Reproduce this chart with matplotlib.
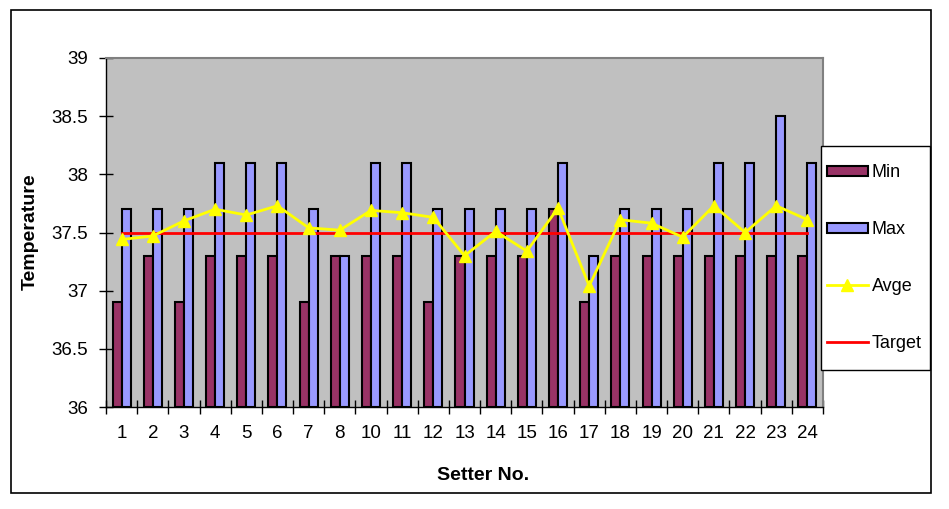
import matplotlib
matplotlib.use("Agg")
import matplotlib.pyplot as plt
from matplotlib.patches import Rectangle
import numpy as np

plt.rcParams['font.family'] = ['Liberation Sans', 'DejaVu Sans']

setters = ["1", "2", "3", "4", "5", "6", "7", "8", "10", "11", "12", "13",
           "14", "15", "16", "17", "18", "19", "20", "21", "22", "23", "24"]
min_vals = [36.9, 37.3, 36.9, 37.3, 37.3, 37.3, 36.9, 37.3, 37.3, 37.3, 36.9, 37.3,
            37.3, 37.3, 37.7, 36.9, 37.3, 37.3, 37.3, 37.3, 37.3, 37.3, 37.3]
max_vals = [37.7, 37.7, 37.7, 38.1, 38.1, 38.1, 37.7, 37.3, 38.1, 38.1, 37.7, 37.7,
            37.7, 37.7, 38.1, 37.3, 37.7, 37.7, 37.7, 38.1, 38.1, 38.5, 38.1]
avge_vals = [37.44, 37.47, 37.60, 37.70, 37.65, 37.73, 37.54, 37.52, 37.69, 37.67, 37.63, 37.30,
             37.51, 37.34, 37.71, 37.04, 37.61, 37.58, 37.46, 37.73, 37.50, 37.73, 37.61]
target_vals = [37.5] * len(setters)
yticks = [36, 36.5, 37, 37.5, 38, 38.5, 39]
ytick_labels = ["36", "36.5", "37", "37.5", "38", "38.5", "39"]

W, H = 949, 509
fig = plt.figure(figsize=(W / 100, H / 100), dpi=100)

# outer chart border
fig.patches.append(Rectangle((11 / W, 1 - 493 / H), (931 - 11) / W, (493 - 10) / H,
                             transform=fig.transFigure, fill=False, edgecolor='black',
                             linewidth=1.2, zorder=0))

ax = fig.add_axes([106 / W, 1 - 407 / H, (823 - 106) / W, (407 - 58) / H])
ax.set_facecolor('#C0C0C0')

x = np.arange(len(setters))
bw = 0.29
ax.bar(x - bw / 2, np.array(min_vals) - 36, bw, bottom=36, color='#993366',
       edgecolor='black', linewidth=1.5, label='Min', zorder=2)
ax.bar(x + bw / 2, np.array(max_vals) - 36, bw, bottom=36, color='#9999FF',
       edgecolor='black', linewidth=1.5, label='Max', zorder=2)
ax.plot(x, target_vals, color='#FF0000', linewidth=2, label='Target', zorder=3)
ax.plot(x, avge_vals, color='#FFFF00', linewidth=2, marker='^', markersize=8,
        markeredgecolor='#FFFF00', label='Avge', zorder=4)

ax.set_xlim(-0.5, len(setters) - 0.5)
ax.set_ylim(36, 39)
ax.set_yticks(yticks)
ax.set_yticklabels(ytick_labels, fontsize=13.5)
ax.set_xticks(np.arange(len(setters) + 1) - 0.5)
ax.set_xticklabels([])
ax.set_xticks(x, minor=True)
ax.set_xticklabels(setters, minor=True, fontsize=13.5)
ax.tick_params(axis='x', which='major', direction='inout', length=10, width=1, color='black')
ax.tick_params(axis='x', which='minor', length=0, pad=13)
ax.tick_params(axis='y', direction='inout', length=10, width=1, color='black', pad=8)

for s in ['top', 'right']:
    ax.spines[s].set_color('#808080')
    ax.spines[s].set_linewidth(1.5)
for s in ['left', 'bottom']:
    ax.spines[s].set_color('black')
    ax.spines[s].set_linewidth(1)

fig.text(483 / W, 1 - 476 / H, 'Setter No.', ha='center', va='center',
         fontsize=14, fontweight='bold')
fig.text(30 / W, 1 - 232 / H, 'Temperature', ha='center', va='center',
         rotation=90, fontsize=14, fontweight='bold')

# legend
fig.patches.append(Rectangle((821 / W, 1 - 370 / H), (930 - 821) / W, (370 - 146) / H,
                             transform=fig.transFigure, facecolor='white',
                             edgecolor='black', linewidth=1, zorder=5))
handles, labels = ax.get_legend_handles_labels()
order = [labels.index(l) for l in ['Min', 'Max', 'Avge', 'Target']]
leg = fig.legend([handles[i] for i in order], [labels[i] for i in order],
                 loc='center left', bbox_to_anchor=(827 / W, 1 - 258 / H),
                 frameon=False, fontsize=13, handlelength=2.27, handletextpad=0.22,
                 labelspacing=2.2, borderpad=0, borderaxespad=0, handleheight=0.5)
leg.set_zorder(6)

fig.savefig('out.png', dpi=100)
